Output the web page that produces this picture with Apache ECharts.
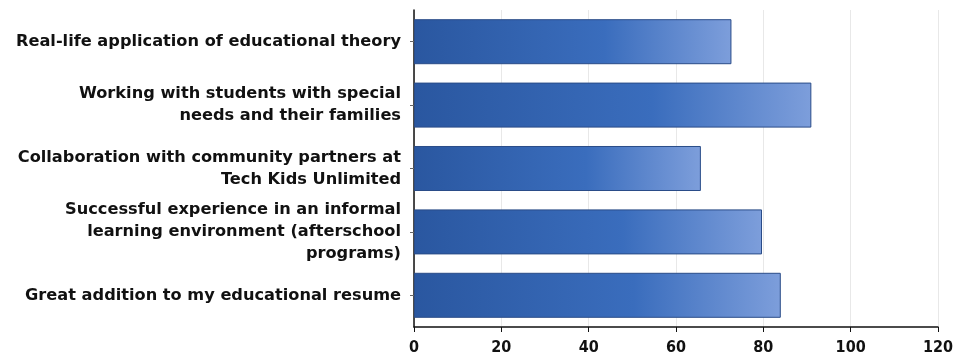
<!DOCTYPE html>
<html>
<head>
<meta charset="utf-8">
<script src="https://cdn.jsdelivr.net/npm/echarts@6/dist/echarts.min.js"></script>
<style>
  html, body { margin: 0; padding: 0; background: #ffffff; }
  #chart { width: 956px; height: 359px; }
</style>
</head>
<body>
<div id="chart"></div>
<script>
// Categories listed top to bottom
const categories = [
  "Real-life application of educational theory",
  "Working with students with special\nneeds and their families",
  "Collaboration with community partners at\nTech Kids Unlimited",
  "Successful experience in an informal\nlearning environment (afterschool\nprograms)",
  "Great addition to my educational resume"
];
const values = [72.7, 91, 65.7, 79.7, 84];
const xTicks = [0, 20, 40, 60, 80, 100, 120];

const chart = echarts.init(document.getElementById('chart'), null, { renderer: 'canvas' });

chart.setOption({
  animation: false,
  backgroundColor: '#ffffff',
  grid: { left: 414, right: 13, top: 10, bottom: 32, containLabel: false },
  xAxis: {
    type: 'value',
    min: xTicks[0],
    max: xTicks[xTicks.length - 1],
    interval: xTicks[1] - xTicks[0],
    axisLine: { show: true, lineStyle: { color: '#111', width: 1.5 } },
    axisTick: { show: true, length: 5, inside: false, lineStyle: { color: '#111' } },
    axisLabel: {
      margin: 13,
      color: '#111',
      fontSize: 16,
      fontWeight: 'bold',
      fontFamily: "'Liberation Sans Narrow', 'DejaVu Sans Condensed', 'Liberation Sans', sans-serif"
    },
    splitLine: { show: true, lineStyle: { color: '#e8e8e8', width: 1 } }
  },
  yAxis: {
    type: 'category',
    inverse: true,
    data: categories,
    axisLine: { show: true, lineStyle: { color: '#111', width: 1.5 } },
    axisTick: { show: true, alignWithLabel: true, length: 4, lineStyle: { color: '#666' } },
    axisLabel: {
      margin: 13,
      color: '#111',
      fontSize: 16.2,
      fontWeight: 'bold',
      lineHeight: 22,
      align: 'right',
      fontFamily: "'DejaVu Sans', Verdana, sans-serif"
    },
    splitLine: { show: false }
  },
  series: [{
    type: 'bar',
    data: values,
    barCategoryGap: '29%',
    itemStyle: {
      borderColor: '#2a4c88',
      borderWidth: 1,
      color: new echarts.graphic.LinearGradient(0, 0, 1, 0, [
        { offset: 0, color: '#2a57a0' },
        { offset: 0.6, color: '#3a6dbd' },
        { offset: 1, color: '#7d9edb' }
      ])
    }
  }]
});
</script>
</body>
</html>
